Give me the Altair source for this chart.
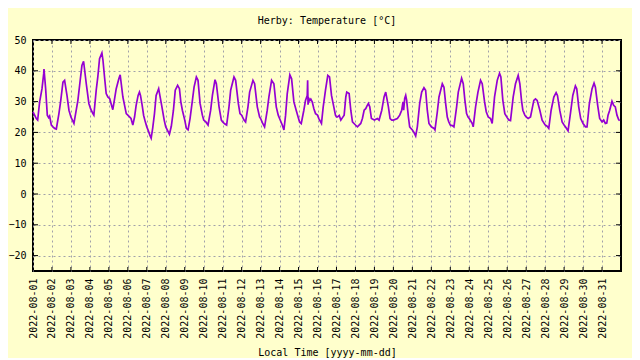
import altair as alt
import pandas as pd

# Hour-of-day positions and temperatures [°C], one list per day (Aug 1 .. Aug 31)
day_hours = [
    [0, 4.2, 5.9, 8.4, 11.4, 13.5, 13.9, 16, 18.1, 19.8, 21, 23.2],
    [1.3, 3.4, 5.5, 8.8, 10.9, 13.9, 16, 19, 21.5],
    [0, 3.8, 8.8, 11, 13.9, 16, 19.4, 22.7],
    [0.8, 3.8, 5, 8, 10, 12.2, 15.2, 16.5, 18.5, 20.6, 22.7],
    [1, 4.6, 5, 9.3, 12.6, 14.3, 17.7, 22],
    [0, 4, 6.3, 8.5, 10.5, 13, 14.7, 16, 18, 20, 22],
    [0, 2, 4, 5.5, 7.5, 9.7, 11.8, 15, 18, 20, 22],
    [0, 2.5, 4.6, 7, 9.7, 12, 15, 17.3, 19, 21],
    [0, 2.1, 4.2, 6.7, 9.7, 11.8, 14.7, 16.8, 19.4, 22.3],
    [0, 2.7, 5.5, 8.8, 11, 14.3, 16, 19.4, 22.3],
    [0, 2.5, 5, 8, 10.1, 14.3, 16.4, 19.8, 21.9],
    [0, 3, 5, 8, 10.1, 14.3, 16.4, 19.8, 22.7],
    [0, 2.5, 5, 8.4, 10.5, 13.9, 16.8, 19.8, 22.3],
    [0, 3.4, 5.5, 7.6, 9.7, 13, 15.2, 18.1, 21],
    [0, 1.3, 3.4, 6.7, 8.8, 11, 11.5, 12, 13, 14.3, 15.5, 17.3, 19.4, 21.5],
    [0, 1.7, 5, 7.2, 10.1, 13, 15.2, 17.7, 20.6, 22.7],
    [0, 1.3, 3.5, 5.5, 7.6, 9.7, 11.8, 13, 16, 18.1, 20.2],
    [0, 2.5, 6.7, 8.8, 11, 13, 14.5, 16.4, 18.1, 20.2],
    [0, 3.8, 5.9, 9.3, 12.2, 14.3, 17.7, 19.8, 22],
    [0, 5, 8, 10.5, 12.2, 13, 14.3, 15.6, 16.8, 19, 20.6, 22.5],
    [0, 2, 4.2, 6.3, 9.3, 11.8, 14.7, 16.8, 18.9, 21],
    [0, 3.4, 4.6, 7.6, 9.7, 13.9, 16, 18.1, 20.2, 22],
    [0, 2.5, 4.6, 8, 10.1, 14.3, 16.4, 18.5, 20.6, 22.5],
    [0, 3.8, 5, 8, 11, 14.3, 16.4, 19.4, 21.5],
    [0, 2.9, 5, 8, 11.4, 14.3, 16, 18.5, 21],
    [0, 2.1, 4.2, 7.6, 10.5, 13.9, 16, 18.1, 19.8, 22.3],
    [0, 2.5, 5.5, 7.6, 9.7, 11.8, 13.9, 17.3, 20.2],
    [0, 2.5, 4.6, 7.6, 11, 13.9, 15.6, 18.5, 21.5],
    [0, 2.5, 5, 8, 11, 14.3, 16, 18.5, 21],
    [0, 3, 5, 8, 11.4, 13.9, 15.6, 18.5, 21],
    [0, 2.1, 4.2, 6, 7.6, 9.7, 12.6, 14.7, 16.8, 18.9, 21, 22.3],
]
day_temps = [
    [26.7, 24.5, 24.0, 29.9, 34.2, 39.0, 40.6, 34.2, 25.6, 24.8, 25.3, 22.4],
    [21.8, 21.3, 21.1, 26.1, 29.9, 36.3, 36.9, 32.0, 27.2],
    [25.0, 22.9, 30.4, 35.3, 41.7, 43.1, 35.8, 29.4],
    [27.7, 26.1, 25.6, 33.7, 38.0, 43.9, 45.8, 43.5, 38.0, 32.6, 31.5],
    [31.0, 27.7, 27.4, 34.2, 37.4, 38.7, 31.5, 26.1],
    [25.6, 24.5, 22.4, 25.0, 28.8, 32.0, 33.1, 32.0, 29.0, 25.5, 23.5],
    [21.8, 20.5, 19.0, 18.1, 21.5, 26.1, 32.0, 34.2, 29.9, 27.0, 24.0],
    [21.8, 20.5, 19.4, 22.0, 27.2, 33.7, 35.3, 34.2, 30.0, 27.2],
    [24.0, 21.3, 20.8, 24.5, 30.4, 34.7, 38.0, 36.9, 29.4, 25.6],
    [24.0, 23.4, 22.4, 27.2, 32.0, 37.1, 35.8, 28.3, 24.0],
    [23.4, 22.8, 22.4, 28.3, 33.7, 38.0, 36.9, 29.4, 26.1],
    [25.6, 24.0, 23.4, 28.3, 33.1, 36.9, 35.8, 28.3, 25.0],
    [24.5, 23.0, 21.8, 27.2, 31.5, 36.9, 35.8, 28.3, 25.6],
    [24.5, 22.4, 20.8, 25.6, 32.6, 38.7, 37.4, 29.9, 27.2],
    [24.5, 23.4, 22.9, 27.2, 30.4, 32.0, 36.9, 29.0, 31.0, 30.4, 30.8, 29.9, 27.7, 26.1],
    [25.6, 24.5, 22.9, 28.3, 33.7, 38.5, 38.0, 32.0, 28.3, 25.6],
    [25.0, 25.0, 25.5, 24.0, 24.8, 25.6, 31.5, 33.1, 32.6, 27.2, 23.4],
    [22.4, 21.8, 22.9, 24.5, 27.2, 27.7, 28.5, 29.4, 28.3, 24.5],
    [24.0, 24.5, 24.0, 27.2, 31.5, 33.1, 28.3, 24.5, 24.0],
    [24.0, 24.5, 25.6, 27.2, 29.9, 27.2, 31.0, 32.0, 30.4, 25.0, 21.8, 21.2],
    [20.8, 20.0, 18.8, 21.8, 29.4, 33.1, 34.5, 33.7, 27.2, 22.9],
    [21.8, 21.3, 20.8, 26.7, 31.5, 35.8, 34.7, 29.4, 25.0, 23.5],
    [22.4, 22.2, 21.8, 28.3, 33.1, 37.6, 35.8, 30.4, 26.1, 25.0],
    [24.5, 22.9, 21.8, 28.3, 33.1, 36.9, 35.8, 29.9, 26.7],
    [25.0, 24.5, 22.9, 31.5, 36.9, 39.2, 38.0, 30.4, 26.1],
    [24.8, 24.0, 23.8, 31.5, 35.8, 38.5, 35.8, 30.4, 27.2, 25.6],
    [25.0, 24.5, 25.0, 27.7, 30.4, 30.9, 30.4, 27.2, 24.0],
    [22.4, 22.0, 21.3, 27.2, 31.5, 32.9, 32.0, 27.2, 23.4],
    [22.4, 21.5, 20.5, 26.1, 32.0, 35.1, 34.2, 28.3, 24.5],
    [22.9, 21.8, 21.8, 29.4, 34.2, 36.0, 34.7, 28.8, 24.5],
    [23.4, 24.0, 22.9, 23.0, 25.6, 27.2, 30.1, 28.8, 28.3, 25.6, 24.2, 23.8],
]
y_ticks = [-20, -10, 0, 10, 20, 30, 40, 50]
x_tick_days = list(range(1, 32))

rows = []
for d, (hs, ts) in enumerate(zip(day_hours, day_temps), start=1):
    for h, t in zip(hs, ts):
        stamp = pd.Timestamp(2022, 8, d) + pd.Timedelta(hours=h)
        rows.append({"time": stamp.strftime("%Y-%m-%dT%H:%M:%S"), "temp": t})
df = pd.DataFrame(rows)

df_xt = pd.DataFrame({"time": [pd.Timestamp(2022, 8, d).strftime("%Y-%m-%dT%H:%M:%S") for d in x_tick_days[1:]]})
df_yt = pd.DataFrame({"temp": y_ticks[:-1]})

W, H = 588, 231
FONT = "DejaVu Sans Mono"

x_scale = alt.Scale(domain=[alt.DateTime(year=2022, month=8, date=1),
                            alt.DateTime(year=2022, month=9, date=1)])
y_scale = alt.Scale(domain=[-25, 50], nice=False)

x_axis = alt.Axis(
    values=[alt.DateTime(year=2022, month=8, date=d) for d in x_tick_days],
    format="%Y-%m-%d", labelAngle=270, labelAlign="right", labelBaseline="middle",
    labelPadding=7, title="Local Time [yyyy-mm-dd]", titleY=84, titleBaseline="alphabetic",
    labelOverlap=False, labelBound=False, labelFlush=False,
)
y_axis = alt.Axis(values=y_ticks, labelPadding=7, title=None, labelOverlap=False,
                  labelAlign="right", labelBaseline="middle")


def xenc():
    return alt.X("time:T", scale=x_scale, axis=x_axis)


def yenc():
    return alt.Y("temp:Q", scale=y_scale, axis=y_axis)


line = alt.Chart(df).mark_line(color="#9400d3", strokeWidth=1.7).encode(x=xenc(), y=yenc())

tick_style = dict(color="black", strokeWidth=1)
top_ticks = alt.Chart(df_xt).mark_rule(**tick_style).encode(
    x=xenc(), y=alt.value(0), y2=alt.value(4))
bottom_ticks = alt.Chart(df_xt).mark_rule(**tick_style).encode(
    x=xenc(), y=alt.value(H - 4), y2=alt.value(H))
left_ticks = alt.Chart(df_yt).mark_rule(**tick_style).encode(
    y=yenc(), x=alt.value(0), x2=alt.value(5))
right_ticks = alt.Chart(df_yt).mark_rule(**tick_style).encode(
    y=yenc(), x=alt.value(W - 5), x2=alt.value(W))

chart = alt.layer(line, top_ticks, bottom_ticks, left_ticks, right_ticks).properties(
    width=W, height=H,
    title=alt.TitleParams("Herby: Temperature [°C]", font=FONT, fontSize=10,
                          fontWeight="normal", color="black", anchor="middle",
                          baseline="alphabetic", offset=1),
    autosize=alt.AutoSizeParams(type="none"),
    padding={"left": 25, "top": 32, "right": 11, "bottom": 87},
    background="#ffffcc",
).configure_view(
    stroke="black", strokeWidth=2, fill="#ffffcc"
).configure_axis(
    grid=True, gridColor="#a0a0aa", gridDash=[2, 3], gridWidth=1,
    domain=False, ticks=False, tickSize=0,
    labelFont=FONT, labelFontSize=10, labelColor="black",
    titleFont=FONT, titleFontSize=10, titleFontWeight="normal", titleColor="black",
)

chart.save("out.html", embed_options={"renderer": "svg", "actions": False})
